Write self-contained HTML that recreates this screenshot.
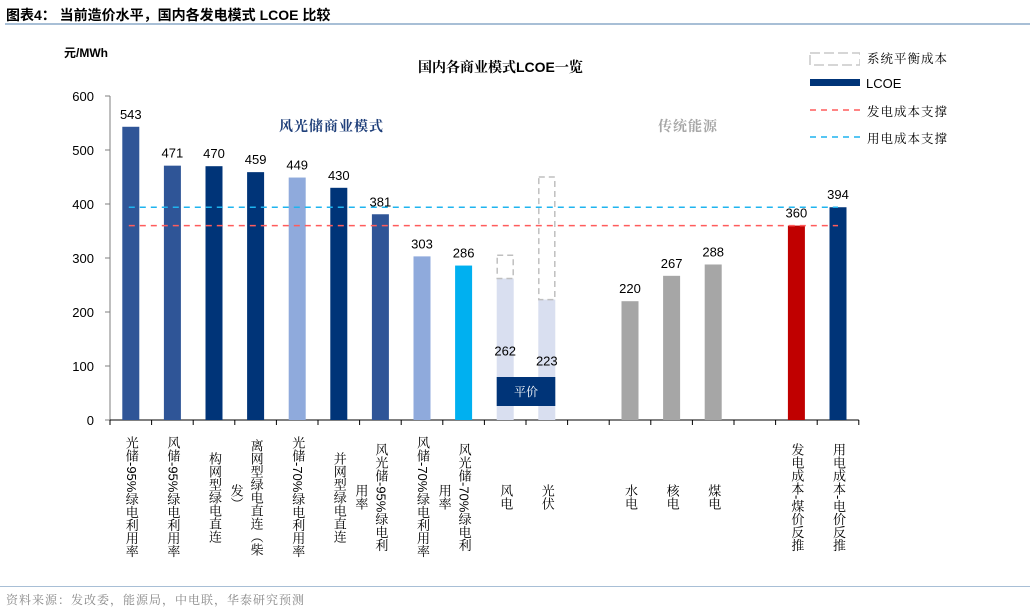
<!DOCTYPE html>
<html><head><meta charset="utf-8">
<style>
body{margin:0;background:#fff;width:1030px;height:610px;overflow:hidden;position:relative;font-family:"Liberation Sans","Noto Sans CJK SC",sans-serif}
.abs{position:absolute}
.vlab{position:absolute;writing-mode:vertical-rl;font-family:"Liberation Sans","Noto Serif CJK SC",serif;font-size:13px;line-height:20px;height:138px;text-align:center;color:#000;white-space:pre}
</style></head><body>
<div class="abs" style="left:6px;top:5px;font-size:14px;font-weight:bold;font-family:'Liberation Sans','Noto Sans CJK SC',sans-serif">图表4：  当前造价水平，国内各发电模式 LCOE 比较</div>
<div class="abs" style="left:5px;top:23px;width:1025px;height:2px;background:#a8bfd6"></div>
<div class="abs" style="left:0;top:586px;width:1030px;height:1px;background:#a8bfd6"></div>
<div class="abs" style="left:6px;top:591px;font-size:12px;color:#888;font-family:'Liberation Serif','Noto Serif CJK SC',serif;letter-spacing:1px">资料来源：发改委，能源局，中电联，华泰研究预测</div>
<svg id="chart" width="1030" height="610" style="position:absolute;left:0;top:0" xmlns="http://www.w3.org/2000/svg"></svg>
<div id="labels"></div>
<script>
const categories=["光储-95%绿电利用率","风储-95%绿电利用率","构网型绿电直连","离网型绿电直连（柴发）","光储-70%绿电利用率","并网型绿电直连","风光储-95%绿电利用率","风储-70%绿电利用率","风光储-70%绿电利用率","风电","光伏","","水电","核电","煤电","","发电成本-煤价反推","用电成本-电价反推"];
const lcoeValues=[543,471,470,459,449,430,381,303,286,262,223,null,220,267,288,null,360,394];
const balanceCost=[null,null,null,null,null,null,null,null,null,305,450,null,null,null,null,null,null,null];
const genSupport=360;
const useSupport=394;
const yTicks=[0,100,200,300,400,500,600];
const breakAt=[0,0,0,9,0,0,10,0,10,0,0,0,0,0,0,0,0,0];
const colors=["#2f5597","#2f5597","#003478","#003478","#8faadc","#003478","#2f5597","#8faadc","#00b0f0","#d9dff0","#d9dff0",null,"#a6a6a6","#a6a6a6","#a6a6a6",null,"#c00000","#003478"];
const NS="http://www.w3.org/2000/svg";
const svg=document.getElementById('chart');
const x0=110,slot=41.6,bw=17,yZero=420,yTop=96,yMax=600;
const y=v=>yZero-(v/yMax)*(yZero-yTop);
const cx=i=>x0+slot*(i+0.5);
function mk(tag,attrs){const e=document.createElementNS(NS,tag);for(const k in attrs)e.setAttribute(k,attrs[k]);svg.appendChild(e);return e;}
let a=mk('line',{x1:x0,y1:yTop,x2:x0,y2:yZero,stroke:'#7f7f7f','stroke-width':1});


a=mk('line',{x1:x0,y1:yZero,x2:x0+slot*categories.length,y2:yZero,stroke:'#000','stroke-width':1});


yTicks.forEach(t=>{
  const l=mk('line',{x1:x0-5,y1:y(t),x2:x0,y2:y(t),stroke:'#7f7f7f'});
  
  
  const tx=mk('text',{x:x0-16,y:y(t)+5,'text-anchor':'end','font-size':13,'font-family':'Liberation Sans'});
  tx.textContent=t;
  
  
});
for(let i=0;i<=categories.length;i++){
  const l=mk('line',{x1:x0+slot*i,y1:yZero,x2:x0+slot*i,y2:yZero+5,stroke:'#000'});
  
  
}
lcoeValues.forEach((v,i)=>{
  if(v==null)return;
  const r=mk('rect',{x:cx(i)-bw/2,y:y(v),width:bw,height:yZero-y(v),fill:colors[i]});
  
  
  if(balanceCost[i]!=null){
    const b=mk('rect',{x:cx(i)-bw/2+0.5,y:y(balanceCost[i]),width:bw-1,height:y(v)-y(balanceCost[i]),fill:'none',stroke:'#bfbfbf','stroke-width':1.5,'stroke-dasharray':'6,4'});
    
    
  }
});
[[useSupport,'#1fb4ef','use-cost-line'],[genSupport,'#ff5c5c','gen-cost-line']].forEach(([v,c,n])=>{
  const l=mk('line',{x1:cx(0)-2,y1:y(v),x2:cx(17),y2:y(v),stroke:c,'stroke-width':1.5,'stroke-dasharray':'6,5'});
  
  
});
const pr=mk('rect',{x:cx(9)-bw/2,y:377,width:cx(10)+bw/2-(cx(9)-bw/2),height:29,fill:'#003478'});


const pt=mk('text',{x:(cx(9)+cx(10))/2,y:396,'text-anchor':'middle','font-size':12,fill:'#fff','font-family':'Noto Serif CJK SC'});
pt.textContent='平价';


lcoeValues.forEach((v,i)=>{
  if(v==null)return;
  let ty=y(v)-8;
  if(i===9)ty=y(v)+77;
  if(i===10)ty=y(v)+66;
  const t=mk('text',{x:cx(i),y:ty,'text-anchor':'middle','font-size':13,'font-family':'Liberation Sans'});
  t.textContent=v;
  
  
});
const lab=document.getElementById('labels');
categories.forEach((c,i)=>{
  if(!c)return;
  const d=document.createElement('div');
  d.className='vlab';
  const b=breakAt[i];
  d.textContent=b?c.slice(0,b)+'\n'+c.slice(b):c;
  d.style.top='428px';
  
  
  lab.appendChild(d);
  d.style.left=(cx(i)+10-d.offsetWidth)+'px';
});
</script>
<div class="abs" style="left:64px;top:44px;font-size:12px;font-weight:bold">元/MWh</div>
<div class="abs" style="left:418px;top:57px;font-size:14px;font-weight:bold;font-family:'Liberation Sans','Noto Serif CJK SC',serif">国内各商业模式LCOE一览</div>
<div class="abs" style="left:279px;top:116px;font-size:14px;color:#1f3f7a;font-weight:bold;font-family:'Liberation Serif','Noto Serif CJK SC',serif;letter-spacing:1px">风光储商业模式</div>
<div class="abs" style="left:658px;top:116px;font-size:14px;color:#a6a6a6;font-weight:bold;font-family:'Liberation Serif','Noto Serif CJK SC',serif;letter-spacing:1px">传统能源</div>
<div>
<svg class="abs" style="left:800px;top:48px" width="60" height="100">
<rect x="10" y="5" width="50" height="12" fill="none" stroke="#c8c8c8" stroke-width="1.5" stroke-dasharray="10,4"/>
<rect x="10" y="31" width="50" height="7" fill="#003478"/>
<line x1="10" y1="62" x2="60" y2="62" stroke="#ff5c5c" stroke-width="1.5" stroke-dasharray="6,5"/>
<line x1="10" y1="89" x2="60" y2="89" stroke="#1fb4ef" stroke-width="1.5" stroke-dasharray="6,5"/>
</svg>
<div class="abs" style="left:867px;top:49px;font-size:12.5px;font-family:'Liberation Serif','Noto Serif CJK SC',serif;letter-spacing:1px">系统平衡成本</div>
<div class="abs" style="left:866px;top:76px;font-size:13px">LCOE</div>
<div class="abs" style="left:867px;top:102px;font-size:12.5px;font-family:'Liberation Serif','Noto Serif CJK SC',serif;letter-spacing:1px">发电成本支撑</div>
<div class="abs" style="left:867px;top:129px;font-size:12.5px;font-family:'Liberation Serif','Noto Serif CJK SC',serif;letter-spacing:1px">用电成本支撑</div>
</div>
</body></html>
